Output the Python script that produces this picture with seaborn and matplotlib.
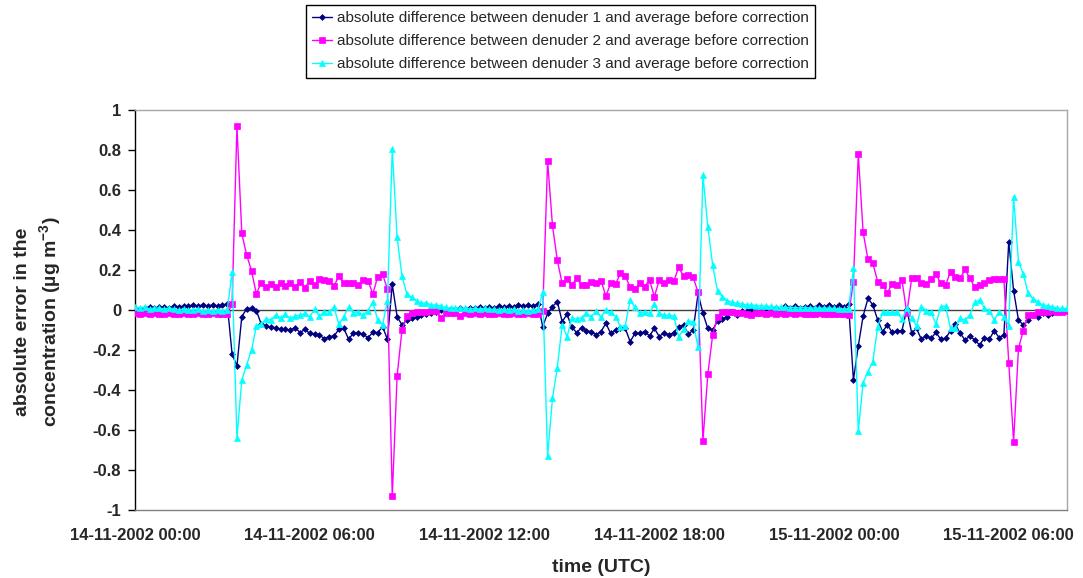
import numpy as np
import pandas as pd
import matplotlib
matplotlib.use("Agg")
import matplotlib.pyplot as plt
import matplotlib.dates as mdates
from matplotlib.ticker import FuncFormatter
import seaborn as sns

# ---------------- data (10-minute values, starting 14-11-2002 00:00) ----------------
start_time = "2002-11-14 00:00"
step = "10min"

denuder1 = [
    0.01, 0.005, 0.01, 0.015, 0.01, 0.015, 0.015, 0.01, 0.02, 0.015,
    0.02, 0.02, 0.025, 0.02, 0.025, 0.02, 0.025, 0.02, 0.025, 0.03,
    -0.22, -0.28, -0.033, 0.005, 0.01, -0.003, -0.07, -0.08, -0.087, -0.088,
    -0.097, -0.097, -0.1, -0.088, -0.113, -0.097, -0.117, -0.122, -0.125, -0.143,
    -0.133, -0.13, -0.097, -0.092, -0.145, -0.117, -0.113, -0.122, -0.138, -0.112,
    -0.113, -0.083, -0.147, 0.128, -0.033, -0.075, -0.05, -0.042, -0.037, -0.025,
    -0.022, -0.013, -0.008, 0.0, -0.003, 0.003, 0.0, 0.008, 0.005, 0.01,
    0.008, 0.015, 0.01, 0.015, 0.01, 0.02, 0.015, 0.02, 0.015, 0.025,
    0.02, 0.025, 0.02, 0.03, -0.083, -0.017, 0.017, 0.042, -0.058, -0.022,
    -0.087, -0.113, -0.088, -0.105, -0.108, -0.125, -0.108, -0.067, -0.117, -0.1,
    -0.092, -0.092, -0.158, -0.117, -0.117, -0.108, -0.13, -0.092, -0.133, -0.113,
    -0.125, -0.113, -0.083, -0.075, -0.12, -0.1, 0.083, -0.017, -0.092, -0.1,
    -0.055, -0.045, -0.033, -0.01, -0.025, -0.005, -0.005, 0.0, 0.005, 0.0,
    0.01, 0.005, 0.01, 0.005, 0.02, 0.01, 0.02, 0.01, 0.015, 0.02,
    0.01, 0.025, 0.015, 0.025, 0.015, 0.025, 0.015, 0.03, -0.35, -0.18,
    -0.03, 0.058, 0.025, -0.05, -0.108, -0.075, -0.112, -0.105, -0.103, 0.005,
    -0.115, -0.092, -0.147, -0.13, -0.142, -0.112, -0.147, -0.142, -0.103, -0.072,
    -0.117, -0.15, -0.13, -0.15, -0.175, -0.138, -0.147, -0.103, -0.138, -0.125,
    0.342, 0.097, -0.05, -0.075, -0.05, -0.025, -0.033, -0.017, -0.025, -0.013,
    -0.008, -0.003, 0.0,
]

denuder2 = [
    -0.015, -0.02, -0.015, -0.02, -0.015, -0.02, -0.02, -0.015, -0.02, -0.02,
    -0.015, -0.02, -0.02, -0.015, -0.02, -0.02, -0.015, -0.02, -0.02, -0.02,
    0.03, 0.92, 0.383, 0.275, 0.197, 0.08, 0.137, 0.113, 0.13, 0.113,
    0.137, 0.12, 0.137, 0.117, 0.142, 0.112, 0.145, 0.125, 0.153, 0.15,
    0.145, 0.12, 0.17, 0.133, 0.133, 0.133, 0.125, 0.15, 0.147, 0.08,
    0.167, 0.18, 0.103, -0.93, -0.33, -0.1, -0.03, -0.017, -0.012, -0.008,
    -0.008, -0.005, -0.005, -0.042, -0.017, -0.015, -0.015, -0.03, -0.015, -0.018,
    -0.015, -0.02, -0.015, -0.018, -0.02, -0.015, -0.02, -0.018, -0.015, -0.02,
    -0.02, -0.015, -0.02, -0.02, -0.005, 0.745, 0.423, 0.248, 0.133, 0.155,
    0.125, 0.158, 0.125, 0.125, 0.142, 0.137, 0.147, 0.07, 0.133, 0.13,
    0.183, 0.17, 0.113, 0.105, 0.133, 0.117, 0.15, 0.067, 0.15, 0.137,
    0.15, 0.145, 0.213, 0.17, 0.175, 0.163, 0.088, -0.653, -0.322, -0.125,
    -0.033, -0.012, -0.008, -0.01, -0.015, -0.015, -0.02, -0.025, -0.015, -0.015,
    -0.02, -0.015, -0.018, -0.015, -0.02, -0.015, -0.02, -0.015, -0.02, -0.018,
    -0.02, -0.015, -0.02, -0.018, -0.02, -0.018, -0.02, -0.025, 0.142, 0.78,
    0.388, 0.253, 0.233, 0.142, 0.125, 0.087, 0.13, 0.125, 0.15, -0.015,
    0.158, 0.158, 0.137, 0.13, 0.153, 0.18, 0.133, 0.125, 0.192, 0.167,
    0.158, 0.203, 0.158, 0.113, 0.125, 0.137, 0.15, 0.153, 0.155, 0.155,
    -0.263, -0.658, -0.192, -0.103, -0.025, -0.025, -0.008, -0.008, -0.008, -0.005,
    -0.008, -0.01, -0.005,
]

denuder3 = [
    0.015, 0.01, 0.015, 0.005, 0.01, 0.01, 0.005, 0.01, 0.005, 0.0,
    0.005, 0.0, 0.0, 0.005, -0.005, 0.0, -0.005, 0.0, -0.005, 0.0,
    0.19, -0.64, -0.35, -0.275, -0.2, -0.08, -0.072, -0.045, -0.05, -0.025,
    -0.038, -0.022, -0.042, -0.03, -0.025, -0.017, -0.033, 0.003, -0.03, -0.008,
    -0.008, 0.013, -0.072, -0.033, 0.013, -0.013, -0.008, -0.025, -0.003, 0.038,
    -0.05, -0.075, 0.045, 0.803, 0.363, 0.17, 0.08, 0.063, 0.047, 0.033,
    0.037, 0.025, 0.025, 0.02, 0.013, 0.01, 0.012, 0.008, 0.01, 0.005,
    0.008, 0.005, 0.008, 0.003, 0.005, 0.0, 0.003, 0.0, 0.003, -0.003,
    0.0, -0.005, 0.0, 0.003, 0.088, -0.73, -0.442, -0.288, -0.075, -0.133,
    -0.042, -0.045, -0.038, -0.017, -0.033, -0.005, -0.037, 0.0, -0.012, -0.033,
    -0.083, -0.078, 0.05, 0.013, -0.017, -0.008, -0.017, 0.03, -0.017, -0.025,
    -0.025, -0.03, -0.133, -0.097, -0.053, -0.062, -0.187, 0.675, 0.417, 0.225,
    0.095, 0.067, 0.047, 0.04, 0.033, 0.03, 0.025, 0.025, 0.022, 0.02,
    0.02, 0.018, 0.015, 0.015, 0.013, 0.012, 0.012, 0.01, 0.012, 0.01,
    0.01, 0.008, 0.01, 0.008, 0.008, 0.005, 0.005, 0.005, 0.208, -0.605,
    -0.363, -0.308, -0.258, -0.083, -0.012, -0.012, -0.012, -0.012, -0.047, 0.008,
    -0.042, -0.08, 0.017, -0.003, -0.012, -0.07, 0.017, 0.02, -0.092, -0.088,
    -0.042, -0.05, -0.025, 0.038, 0.05, 0.008, -0.003, -0.05, -0.012, -0.033,
    -0.078, 0.563, 0.242, 0.18, 0.083, 0.055, 0.042, 0.025, 0.02, 0.017,
    0.008, 0.008, 0.008,
]

labels = [
    "absolute difference between denuder 1 and average before correction",
    "absolute difference between denuder 2 and average before correction",
    "absolute difference between denuder 3 and average before correction",
]
y_ticks = [-1, -0.8, -0.6, -0.4, -0.2, 0, 0.2, 0.4, 0.6, 0.8, 1]
x_label = "time (UTC)"
y_label = "absolute error in the\nconcentration (µg m$^{\\mathbf{-3}}$)"

# ---------------- plotting ----------------
sns.set_style("white")
plt.rcParams["font.family"] = ["Liberation Sans", "DejaVu Sans"]
plt.rcParams["mathtext.fontset"] = "custom"
plt.rcParams["mathtext.rm"] = "Liberation Sans"
plt.rcParams["mathtext.bf"] = "Liberation Sans:bold"

times = pd.date_range(start_time, periods=len(denuder1), freq=step)

W, H = 1083, 578
fig = plt.figure(figsize=(W / 100, H / 100), dpi=100)
ax = fig.add_axes([135 / W, (H - 510) / H, (1067 - 135) / W, 400 / H])

styles = [
    (denuder1, "#000080", "D", 3.0),
    (denuder2, "#FF00FF", "s", 3.8),
    (denuder3, "#00FFFF", "^", 4.2),
]
ax.axhline(0, color="#404040", lw=1.0, zorder=1)
for (vals, col, mk, ms), lab in zip(styles, labels):
    sns.lineplot(x=times, y=vals, ax=ax, color=col, marker=mk, markersize=ms,
                 markeredgecolor=col, markeredgewidth=0.5, linewidth=1.0,
                 label=lab, legend=False, zorder=3)

ax.set_ylim(-1, 1)
ax.set_xlim(pd.Timestamp("2002-11-14 00:00"), pd.Timestamp("2002-11-15 08:00"))
ax.set_yticks(y_ticks)
ax.yaxis.set_major_formatter(FuncFormatter(lambda v, p: f"{round(v, 1):g}" if abs(v) > 1e-9 else "0"))
ax.xaxis.set_major_locator(mdates.HourLocator(byhour=[0, 6, 12, 18]))
ax.xaxis.set_major_formatter(mdates.DateFormatter("%d-%m-%Y %H:%M"))

ax.tick_params(axis="y", which="major", direction="out", length=5, width=1,
               color="#000000", pad=5, labelsize=12, left=True)
ax.tick_params(axis="x", which="major", length=0, pad=13, labelsize=12)
for lab in ax.get_xticklabels() + ax.get_yticklabels():
    lab.set_fontweight("bold")

for side, col in [("left", "#000000"), ("bottom", "#808080"),
                  ("top", "#A6A6A6"), ("right", "#A6A6A6")]:
    ax.spines[side].set_visible(True)
    ax.spines[side].set_color(col)
    ax.spines[side].set_linewidth(1.0)

ax.set_xlabel("")
ax.set_ylabel("")
fig.text(601 / W, 1 - 567 / H, x_label, ha="center", va="center",
         fontsize=14, fontweight="bold")
fig.text(39 / W, 1 - 322 / H, y_label, ha="center", va="center",
         rotation=90, fontsize=14, fontweight="bold", linespacing=1.3,
         multialignment="center")

handles = ax.get_lines()[1:4]
leg = fig.legend(handles, labels, loc="upper left",
                 bbox_to_anchor=(306 / W, 1 - 5 / H), borderaxespad=0,
                 fontsize=11, frameon=True, fancybox=False, framealpha=1,
                 edgecolor="#000000", borderpad=0.4, handlelength=1.3,
                 handletextpad=0.3, labelspacing=0.6)
leg.get_frame().set_linewidth(1.0)

fig.savefig("out.png", dpi=100)
